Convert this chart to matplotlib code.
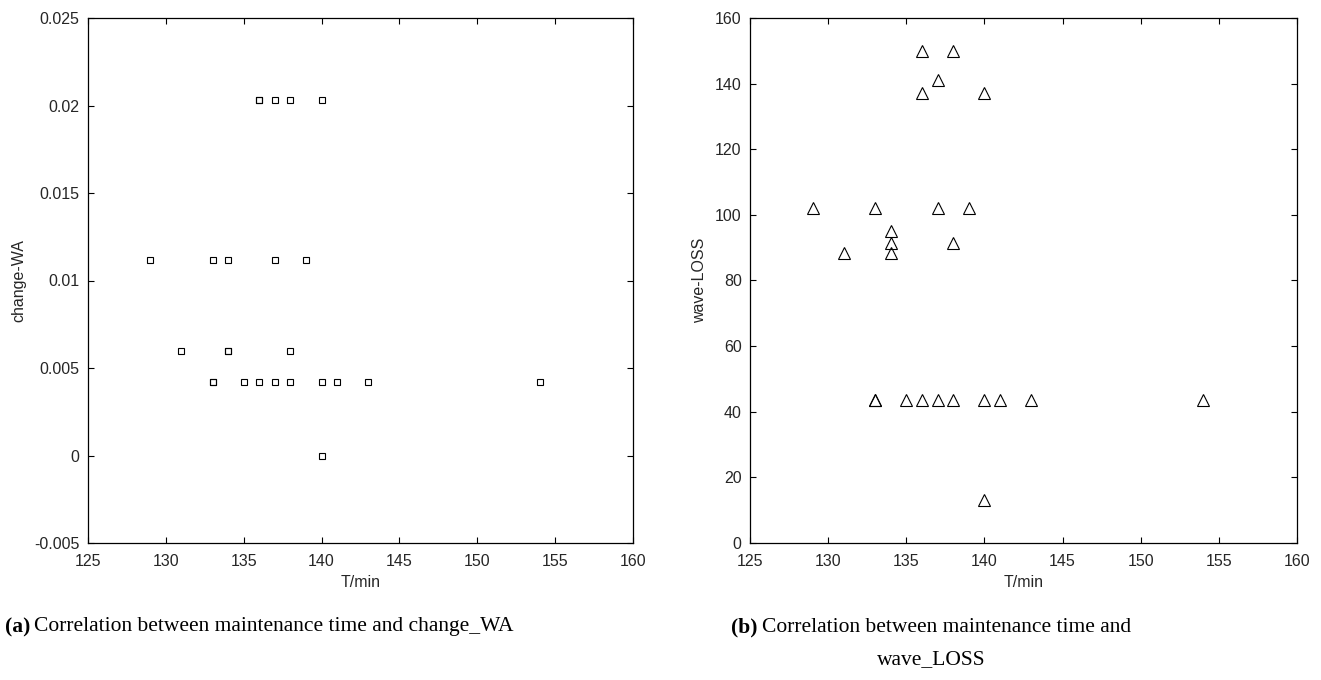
import numpy as np
import matplotlib
matplotlib.use("Agg")
import matplotlib.pyplot as plt
from matplotlib.ticker import FuncFormatter

# maintenance time (min) vs change_WA
tA = [136, 136, 137, 138, 140,
      129, 133, 134, 137, 139,
      131, 134, 134, 138,
      133, 133, 135, 136, 137, 138, 140, 141, 143, 154,
      140]
changeWA = [0.0203, 0.0203, 0.0203, 0.0203, 0.0203,
            0.0112, 0.0112, 0.0112, 0.0112, 0.0112,
            0.006, 0.006, 0.006, 0.006,
            0.0042, 0.0042, 0.0042, 0.0042, 0.0042, 0.0042, 0.0042, 0.0042, 0.0042, 0.0042,
            0.0]

# maintenance time (min) vs wave_LOSS
tB = [136, 138, 137, 136, 140,
      129, 133, 137, 139,
      134, 134, 138, 131, 134,
      133, 133, 135, 136, 137, 138, 140, 141, 143, 154,
      140]
waveLOSS = [150, 150, 141, 137, 137,
            102, 102, 102, 102,
            95, 91.5, 91.5, 88.5, 88.5,
            43.5, 43.5, 43.5, 43.5, 43.5, 43.5, 43.5, 43.5, 43.5, 43.5,
            13]

xticks = [125, 130, 135, 140, 145, 150, 155, 160]

plt.rcParams['font.family'] = ['Liberation Sans', 'DejaVu Sans']
fig = plt.figure(figsize=(13.21, 6.8), dpi=100)
W, H = 1321, 680
txtc = '#262626'

def style(ax):
    ax.tick_params(direction='in', top=True, right=True, labelsize=11.5, length=4, width=0.8,
                   labelcolor=txtc)
    ax.tick_params(axis='x', pad=8)
    ax.tick_params(axis='y', pad=6)
    for s in ax.spines.values():
        s.set_linewidth(0.9)
    ax.set_xlim(125, 160)
    ax.set_xticks(xticks)
    ax.set_xlabel("T/min", fontsize=11.5, labelpad=4, color=txtc)

ax1 = fig.add_axes([88 / W, (H - 543) / H, 545 / W, 525 / H])
ax1.plot(tA, changeWA, 's', ms=5, mfc='none', mec='black', mew=0.8)
style(ax1)
ax1.set_ylim(-0.005, 0.025)
ax1.set_yticks(np.arange(-0.005, 0.0251, 0.005))
ax1.yaxis.set_major_formatter(FuncFormatter(lambda v, p: "%g" % round(v, 3)))
ax1.set_ylabel("change-WA", fontsize=11.5, labelpad=6, color=txtc)

ax2 = fig.add_axes([750 / W, (H - 543) / H, 547 / W, 525 / H])
ax2.plot(tB, waveLOSS, '^', ms=9, mfc='none', mec='black', mew=0.8)
style(ax2)
ax2.set_ylim(0, 160)
ax2.set_yticks(np.arange(0, 161, 20))
ax2.set_ylabel("wave-LOSS", fontsize=11.5, labelpad=6, color=txtc)

serif = ['Liberation Serif', 'DejaVu Serif']
cap = 15.5
t1 = fig.text(5 / W, 1 - 627 / H, "(a)", fontsize=cap, va='center', ha='left',
              family=serif, weight='bold')
fig.canvas.draw()
bb = t1.get_window_extent()
fig.text((bb.x1 + 4) / W, 1 - 627 / H, "Correlation between maintenance time and change_WA",
         fontsize=cap, va='center', ha='left', family=serif)

t2 = fig.text(731 / W, 1 - 627 / H, "(b)", fontsize=cap, va='center', ha='left',
              family=serif, weight='bold')
fig.canvas.draw()
bb = t2.get_window_extent()
fig.text((bb.x1 + 4) / W, 1 - 627 / H, "Correlation between maintenance time and",
         fontsize=cap, va='center', ha='left', family=serif)
fig.text(931 / W, 1 - 660 / H, "wave_LOSS", fontsize=cap, va='center', ha='center', family=serif)

fig.savefig("out.png", dpi=100)
